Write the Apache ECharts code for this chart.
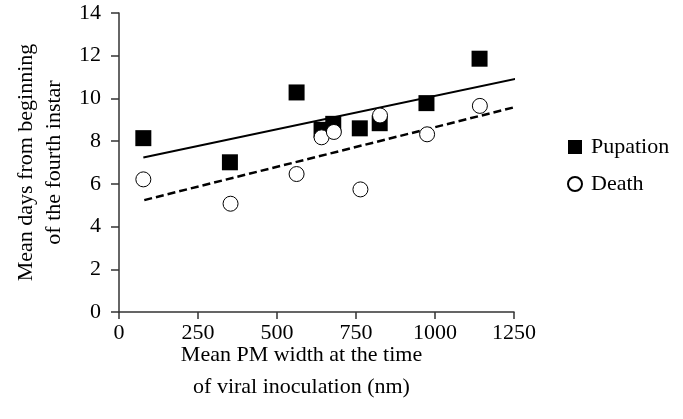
<!DOCTYPE html>
<html>
<head>
<meta charset="utf-8">
<script src="https://cdn.jsdelivr.net/npm/echarts@6/dist/echarts.min.js"></script>
<style>html,body{margin:0;padding:0;background:#fff}#c{width:683px;height:419px}</style>
</head>
<body>
<div id="c"></div>
<script>
const pupationX = [77, 351, 562, 641, 678, 762, 825, 973, 1141];
const pupationY = [8.14, 7.01, 10.28, 8.53, 8.81, 8.6, 8.84, 9.78, 11.86];
const deathX = [77, 353, 562, 641, 680, 764, 826, 975, 1142];
const deathY = [6.21, 5.07, 6.46, 8.18, 8.43, 5.74, 9.2, 8.32, 9.65];
const pupationTrendX = [77, 1276];
const pupationTrendY = [7.23, 10.98];
const deathTrendX = [80, 1252];
const deathTrendY = [5.24, 9.59];
const xTicks = [0, 250, 500, 750, 1000, 1250];
const yTicks = [0, 2, 4, 6, 8, 10, 12, 14];

const zip = (a, b) => a.map((v, i) => [v, b[i]]);
const font = 'Liberation Serif';
const fs = 22;
const chart = echarts.init(document.getElementById('c'), null, {renderer: 'canvas'});
chart.setOption({
  animation: false,
  backgroundColor: '#fff',
  textStyle: {fontFamily: font, color: '#000'},
  grid: {left: 119, right: 169, top: 13, bottom: 107, containLabel: false},
  legend: {
    data: [{name: 'Pupation', icon: 'rect'}, {name: 'Death', icon: 'circle'}],
    orient: 'vertical', left: 562, top: 131, itemWidth: 14, itemHeight: 14, itemGap: 15,
    textStyle: {fontFamily: font, fontSize: fs, color: '#000', lineHeight: 22, padding: [0, 0, 0, 4]}
  },
  xAxis: {
    type: 'value', min: 0, max: 1250, interval: 250,
    name: 'Mean PM width at the time\nof viral inoculation (nm)',
    nameLocation: 'middle', nameGap: 27, nameMoveOverlap: false,
    nameTextStyle: {fontFamily: font, fontSize: fs, color: '#000', lineHeight: 32, padding: [0, 30, 0, 0]},
    axisLine: {lineStyle: {color: '#333', width: 1.5}},
    axisTick: {show: true, length: 7, lineStyle: {color: '#333', width: 1.5}},
    axisLabel: {fontFamily: font, fontSize: fs, color: '#000', margin: 10,
      formatter: v => xTicks.includes(v) ? String(v) : ''},
    splitLine: {show: false}
  },
  yAxis: {
    type: 'value', min: 0, max: 14, interval: 2,
    name: 'Mean days from beginning\nof the fourth instar',
    nameLocation: 'middle', nameGap: 51, nameRotate: 90,
    nameTextStyle: {fontFamily: font, fontSize: fs, color: '#000', lineHeight: 28},
    axisLine: {show: true, lineStyle: {color: '#333', width: 1.5}},
    axisTick: {show: true, length: 8, lineStyle: {color: '#333', width: 1.5}},
    axisLabel: {fontFamily: font, fontSize: fs, color: '#000', margin: 18,
      formatter: v => yTicks.includes(v) ? String(v) : ''},
    splitLine: {show: false}
  },
  series: [
    {type: 'line', name: 'pt', data: zip(pupationTrendX, pupationTrendY), symbol: 'none',
      lineStyle: {color: '#000', width: 2}, z: 1, silent: true},
    {type: 'line', name: 'dt', data: zip(deathTrendX, deathTrendY), symbol: 'none',
      lineStyle: {color: '#000', width: 2.5, type: [8, 4]}, z: 1, silent: true},
    {type: 'scatter', name: 'Pupation', data: zip(pupationX, pupationY), symbol: 'rect', symbolSize: 16,
      itemStyle: {color: '#000', opacity: 1}, z: 2},
    {type: 'scatter', name: 'Death', data: zip(deathX, deathY), symbol: 'circle', symbolSize: 15,
      itemStyle: {color: '#fff', borderColor: '#000', borderWidth: 1, opacity: 1}, z: 3}
  ]
});
</script>
</body>
</html>
